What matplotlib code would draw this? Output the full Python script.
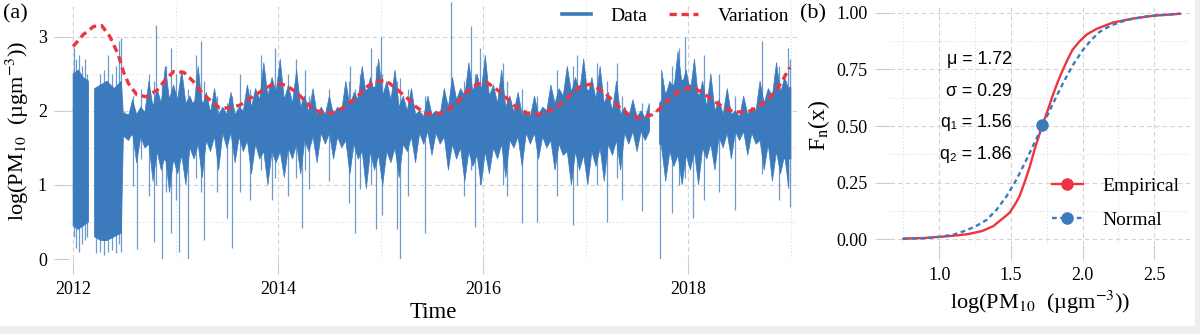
import numpy as np
import matplotlib.pyplot as plt
from matplotlib.lines import Line2D
from matplotlib.patches import Rectangle
from matplotlib.ticker import FixedLocator, FormatStrFormatter

plt.rcParams['font.family'] = 'Liberation Serif'
plt.rcParams['mathtext.fontset'] = 'stix'

nan = np.nan
core_t = [2012.00, 2012.05, 2012.10, 2012.15, 2012.16, 2012.21, 2012.27, 2012.33, 2012.40, 2012.47,
          2012.49, 2012.55, 2012.62, 2012.70, 2012.78, 2012.86, 2012.94, 2013.02, 2013.10, 2013.18,
          2013.26, 2013.34, 2013.42, 2013.50, 2013.58, 2013.66, 2013.74, 2013.82, 2013.90, 2013.98,
          2014.06, 2014.14, 2014.22, 2014.30, 2014.38, 2014.46, 2014.54, 2014.62, 2014.70, 2014.78,
          2014.86, 2014.94, 2015.02, 2015.10, 2015.18, 2015.26, 2015.34, 2015.42, 2015.50, 2015.58,
          2015.66, 2015.74, 2015.82, 2015.90, 2015.98, 2016.06, 2016.14, 2016.22, 2016.30, 2016.38,
          2016.46, 2016.54, 2016.62, 2016.70, 2016.78, 2016.86, 2016.94, 2017.02, 2017.10, 2017.18,
          2017.26, 2017.34, 2017.42, 2017.50, 2017.62, 2017.66, 2017.72, 2017.80, 2017.88, 2017.96,
          2018.04, 2018.12, 2018.20, 2018.28, 2018.36, 2018.44, 2018.52, 2018.60, 2018.68, 2018.76,
          2018.84, 2018.92, 2019.00]
core_lo = [0.45, 0.40, 0.45, 0.50, nan, 0.30, 0.25, 0.25, 0.30, 0.35,
           1.65, 1.65, 1.72, 1.72, 1.55, 1.38, 1.28, 1.35, 1.55, 1.65,
           1.70, 1.72, 1.75, 1.72, 1.72, 1.70, 1.65, 1.60, 1.55, 1.55,
           1.55, 1.60, 1.65, 1.70, 1.72, 1.75, 1.72, 1.70, 1.65, 1.55,
           1.50, 1.45, 1.45, 1.50, 1.55, 1.65, 1.72, 1.75, 1.75, 1.72,
           1.65, 1.55, 1.55, 1.50, 1.50, 1.55, 1.55, 1.60, 1.65, 1.70,
           1.72, 1.72, 1.70, 1.65, 1.55, 1.45, 1.45, 1.45, 1.50, 1.55,
           1.60, 1.70, 1.75, 1.75, 1.75, nan, 1.55, 1.50, 1.45, 1.45,
           1.45, 1.50, 1.55, 1.65, 1.72, 1.75, 1.75, 1.72, 1.70, 1.55,
           1.45, 1.35, 1.35]
core_hi = [2.50, 2.55, 2.45, 2.40, nan, 2.30, 2.35, 2.40, 2.30, 2.40,
           1.95, 1.95, 1.90, 1.90, 2.08, 2.12, 2.18, 2.08, 2.00, 2.12,
           2.12, 1.95, 1.92, 1.92, 1.92, 1.92, 1.95, 2.12, 2.22, 2.28,
           2.18, 2.12, 2.00, 1.95, 1.92, 1.90, 1.92, 2.00, 2.08, 2.18,
           2.28, 2.32, 2.22, 2.12, 2.05, 1.95, 1.92, 1.90, 1.90, 1.92,
           1.95, 2.08, 2.18, 2.28, 2.32, 2.22, 2.10, 2.00, 1.95, 1.92,
           1.90, 1.90, 1.95, 2.05, 2.15, 2.28, 2.32, 2.28, 2.18, 2.10,
           2.00, 1.95, 1.90, 1.88, 1.88, nan, 2.10, 2.28, 2.38, 2.42,
           2.32, 2.18, 2.05, 1.95, 1.92, 1.90, 1.90, 1.92, 1.95, 2.05,
           2.18, 2.28, 2.32]

# upper / lower edge of the dense band every 0.04 yr from mid-2012 on
env_start = 2012.50
env_step = 0.04
upper_v = [1.98, 1.92, 2.15, 1.95, 2.05, 1.98, 2.40, 2.05, 2.30, 2.10, 2.60, 2.15, 2.35,
           2.15, 2.55, 2.10, 2.20, 2.05, 2.60, 2.05, 2.25, 1.98, 2.30, 1.95, 2.05, 1.95,
           2.25, 1.95, 2.05, 2.00, 2.35, 2.05, 2.30, 2.15, 2.65, 2.20, 2.45, 2.25,
           2.70, 2.15, 2.35, 2.10, 2.55, 2.05, 2.20, 1.98, 2.30, 1.95, 2.05, 1.95, 2.20,
           1.95, 2.05, 2.00, 2.40, 2.05, 2.25, 2.15, 2.60, 2.20, 2.45, 2.25, 2.70,
           2.20, 2.40, 2.15, 2.55, 2.05, 2.20, 2.00, 2.30, 1.95, 2.00, 1.92, 2.20, 1.95,
           2.00, 1.95, 2.30, 2.05, 2.45, 2.15, 2.30, 2.20, 2.65, 2.25, 2.50, 2.25,
           2.75, 2.20, 2.35, 2.10, 2.55, 2.05, 2.20, 1.98, 2.25, 1.95, 2.00, 1.92, 2.20,
           1.95, 2.05, 2.00, 2.35, 2.10, 2.30, 2.20, 2.60, 2.25, 2.45, 2.25, 2.70,
           2.20, 2.45, 2.15, 2.60, 2.10, 2.25, 2.00, 2.40, 1.95, 2.05, 1.92, 2.15, 1.92,
           2.00, 1.90, 2.10, nan, nan, 2.55, 2.20, 2.40, 2.30, 2.80, 2.35, 2.55,
           2.25, 2.70, 2.15, 2.40, 2.05, 2.50, 2.00, 2.15, 1.95, 2.30, 1.95, 2.00, 1.92,
           2.20, 1.95, 2.05, 2.00, 2.40, 2.10, 2.30, 2.20, 2.65, 2.25, 2.45, 2.30]
lower_v = [1.65, 1.60, 1.70, 1.30, 1.65, 1.50, 1.55, 1.05, 1.45, 1.20, 1.40, 0.90, 1.35,
           1.15, 1.40, 1.00, 1.50, 1.35, 1.55, 1.10, 1.60, 1.45, 1.65, 1.20, 1.70, 1.50,
           1.70, 1.30, 1.65, 1.45, 1.60, 1.15, 1.55, 1.35, 1.45, 1.00, 1.45, 1.30,
           1.45, 1.10, 1.50, 1.35, 1.55, 1.15, 1.60, 1.45, 1.65, 1.30, 1.70, 1.55, 1.70,
           1.35, 1.65, 1.50, 1.60, 1.15, 1.55, 1.35, 1.45, 0.95, 1.45, 1.20, 1.40,
           1.00, 1.45, 1.30, 1.50, 1.10, 1.55, 1.45, 1.65, 1.30, 1.70, 1.55, 1.72, 1.40,
           1.70, 1.55, 1.65, 1.20, 1.55, 1.35, 1.50, 1.05, 1.45, 1.25, 1.40, 1.00,
           1.45, 1.15, 1.50, 1.35, 1.55, 1.10, 1.60, 1.50, 1.65, 1.25, 1.70, 1.55, 1.70,
           1.35, 1.65, 1.50, 1.60, 1.20, 1.55, 1.40, 1.45, 1.00, 1.45, 1.20, 1.40,
           1.00, 1.45, 1.25, 1.50, 1.05, 1.55, 1.40, 1.60, 1.20, 1.70, 1.55, 1.72, 1.45,
           1.72, 1.60, 1.72, nan, nan, 1.50, 1.05, 1.45, 1.25, 1.40, 1.00, 1.40,
           1.20, 1.45, 1.00, 1.50, 1.35, 1.55, 1.20, 1.65, 1.50, 1.70, 1.35, 1.72, 1.60,
           1.72, 1.40, 1.70, 1.55, 1.60, 1.20, 1.55, 1.05, 1.45, 1.15, 1.40, 0.95]

spike_t = [2012.01, 2012.03, 2012.06, 2012.09, 2012.12, 2012.14, 2012.22, 2012.26, 2012.30, 2012.34,
           2012.38, 2012.42, 2012.45, 2012.47, 2012.58, 2012.62, 2012.66, 2012.74, 2012.79, 2012.81,
           2012.87, 2012.91, 2012.95, 2013.00, 2013.03, 2013.12, 2013.20, 2013.245, 2013.28, 2013.40,
           2013.50, 2013.55, 2013.63, 2013.73, 2013.83, 2013.94, 2013.97, 2014.10, 2014.17, 2014.23,
           2014.26, 2014.30, 2014.50, 2014.69, 2014.70, 2014.75, 2014.80, 2014.91, 2014.95, 2015.005,
           2015.01, 2015.16, 2015.19, 2015.27, 2015.43, 2015.685, 2015.81, 2015.88, 2015.92, 2015.97,
           2016.19, 2016.23, 2016.38, 2016.52, 2016.72, 2016.88, 2016.91, 2017.11, 2017.21, 2017.30,
           2017.35, 2017.55, 2017.72, 2017.84, 2017.91, 2017.97, 2018.05, 2018.15, 2018.30, 2018.46,
           2018.72, 2018.88, 2018.97, 2018.99]
spike_lo = [0.30, 0.15, 0.10, 0.20, 0.25, 0.30, 0.08, 0.10, 0.06, 0.10,
            0.12, 0.08, 0.20, 0.10, 0.98, 0.14, 1.35, 0.85, 0.23, 1.00,
            0.00, 0.90, 0.35, 0.80, 0.10, 0.00, 1.10, 0.90, 0.25, 0.90,
            0.55, 0.15, 0.90, 0.80, 1.20, 0.80, 1.10, 0.85, 1.10, 0.42,
            1.20, 0.95, 1.05, 0.75, 1.20, 0.35, 0.95, 1.00, 0.40, 1.10,
            0.60, 0.40, 0.00, 0.85, 0.35, 1.50, 0.85, 1.20, 0.43, 1.00,
            1.00, 0.85, 0.49, 0.50, 0.85, 0.46, 1.00, 1.00, 0.50, 1.10,
            0.80, 0.65, 0.00, 0.62, 1.00, 1.10, 0.55, 0.80, 0.90, 0.66,
            1.15, 0.80, 1.00, 0.70]
spike_hi = [2.85, 2.70, 2.75, 2.60, 2.70, 2.50, 2.30, 2.50, 2.55, 2.75,
            2.50, 2.60, 2.95, 2.98, 2.20, 1.90, 2.30, 2.50, 2.40, 3.16,
            2.40, 2.60, 2.85, 2.50, 2.30, 2.30, 2.75, 2.95, 2.40, 2.20,
            2.10, 2.20, 2.50, 2.30, 2.75, 2.40, 2.85, 2.50, 2.70, 2.20,
            2.55, 2.20, 2.30, 2.40, 2.60, 2.30, 2.50, 2.85, 2.60, 3.00,
            2.50, 2.40, 2.45, 2.30, 2.20, 3.47, 2.40, 3.14, 2.50, 2.85,
            2.65, 2.40, 2.30, 2.20, 2.55, 2.60, 2.75, 2.65, 2.40, 2.65,
            2.20, 2.10, 2.00, 2.60, 2.85, 3.00, 2.50, 2.75, 2.50, 2.20,
            2.95, 2.60, 2.85, 2.70]

var_t = [2012.00, 2012.10, 2012.20, 2012.28, 2012.36, 2012.44, 2012.49, 2012.54, 2012.62, 2012.71,
         2012.82, 2012.90, 2012.98, 2013.08, 2013.17, 2013.26, 2013.34, 2013.43, 2013.53, 2013.63,
         2013.74, 2013.86, 2013.96, 2014.07, 2014.17, 2014.26, 2014.34, 2014.46, 2014.57, 2014.67,
         2014.77, 2014.85, 2014.95, 2015.06, 2015.16, 2015.26, 2015.34, 2015.43, 2015.54, 2015.66,
         2015.76, 2015.84, 2015.94, 2016.04, 2016.15, 2016.23, 2016.32, 2016.43, 2016.54, 2016.65,
         2016.75, 2016.84, 2016.93, 2017.04, 2017.15, 2017.24, 2017.32, 2017.42, 2017.53, 2017.65,
         2017.74, 2017.82, 2017.92, 2018.03, 2018.14, 2018.23, 2018.33, 2018.44, 2018.57, 2018.68,
         2018.78, 2018.86, 2018.93, 2018.99]
var_v = [2.87, 3.03, 3.14, 3.15, 3.00, 2.76, 2.53, 2.37, 2.22, 2.19,
         2.28, 2.42, 2.53, 2.52, 2.40, 2.24, 2.14, 2.04, 2.04, 2.08,
         2.18, 2.29, 2.37, 2.35, 2.26, 2.14, 2.02, 1.96, 1.99, 2.08,
         2.19, 2.31, 2.41, 2.40, 2.29, 2.17, 2.06, 1.97, 1.95, 2.02,
         2.13, 2.26, 2.36, 2.38, 2.27, 2.17, 2.05, 1.97, 1.95, 2.00,
         2.09, 2.20, 2.32, 2.36, 2.28, 2.17, 2.06, 1.95, 1.90, 1.95,
         2.05, 2.17, 2.28, 2.32, 2.25, 2.15, 2.06, 1.99, 1.98, 2.05,
         2.16, 2.28, 2.44, 2.59]

# ---- panel (b): empirical vs normal CDF
emp_x = [0.75, 0.90, 1.00, 1.10, 1.20, 1.30, 1.376, 1.45, 1.49, 1.53, 1.56, 1.60, 1.632, 1.667,
         1.70, 1.725, 1.76, 1.79, 1.83, 1.86, 1.90, 1.93, 1.98, 2.03, 2.10, 2.21, 2.35, 2.50, 2.68]
emp_f = [0.002, 0.005, 0.010, 0.015, 0.022, 0.036, 0.057, 0.095, 0.116, 0.155, 0.189, 0.260, 0.321,
         0.400, 0.465, 0.513, 0.575, 0.632, 0.700, 0.745, 0.800, 0.837, 0.875, 0.905, 0.930, 0.957,
         0.975, 0.988, 0.996]
norm_x = [0.75, 0.90, 1.00, 1.10, 1.167, 1.25, 1.33, 1.40, 1.47, 1.54, 1.60, 1.66, 1.72, 1.794,
          1.864, 1.93, 2.00, 2.06, 2.12, 2.20, 2.31, 2.45, 2.68]
norm_f = [0.002, 0.004, 0.010, 0.020, 0.034, 0.055, 0.085, 0.130, 0.190, 0.265, 0.340, 0.420, 0.500,
          0.600, 0.690, 0.767, 0.834, 0.880, 0.917, 0.945, 0.969, 0.985, 0.997]
median_x = [1.72]
median_f = [0.505]
stat_names = ['μ', 'σ', 'q₁', 'q₂']
stat_values = [1.72, 0.29, 1.56, 1.86]

blue = '#3b7bbd'
red = '#ef3340'
grid_major = '#d2d2d2'
grid_minor = '#dedede'
pm_label = r'log(PM$_{10}$  (µgm$^{-3}$))'


def style(ax):
    for s in ax.spines.values():
        s.set_visible(False)
    ax.set_axisbelow(True)
    ax.grid(which='major', color=grid_major, ls=(0, (4, 3)), lw=0.8)
    ax.grid(which='minor', color=grid_minor, ls=(0, (1, 2)), lw=0.8)
    ax.tick_params(which='major', length=11, width=0.8, color='#cccccc', pad=5, labelsize=13)
    ax.tick_params(which='minor', length=0)


fig = plt.figure(figsize=(12, 3.34), dpi=100)
fig.patches.append(Rectangle((0, 0), 1, 8 / 334, transform=fig.transFigure, color='#eeeeee', zorder=0))
fig.patches.append(Rectangle((1195 / 1200, 0), 5 / 1200, 1, transform=fig.transFigure, color='#eeeeee', zorder=0))

ax1 = fig.add_axes([69 / 1200, 75 / 334, 728 / 1200, 257 / 334])
style(ax1)
env_t = np.round(env_start + env_step * np.arange(len(upper_v)), 2)
ax1.fill_between(core_t, core_lo, core_hi, color=blue, lw=0.6, edgecolor=blue)
ax1.fill_between(env_t, lower_v, upper_v, color=blue, lw=0.5, edgecolor=blue)
ax1.vlines(spike_t, spike_lo, spike_hi, color=blue, lw=0.9, alpha=0.75)
ax1.plot(var_t, var_v, color=red, lw=2.4, ls=(0, (2.2, 1.4)))
ax1.set_xlim(2011.96, 2019.06)
ax1.set_ylim(0, 3.47)
ax1.set_xticks([2012, 2014, 2016, 2018])
ax1.set_xticklabels(['2012', '2014', '2016', '2018'])
ax1.xaxis.set_minor_locator(FixedLocator([2013, 2015, 2017, 2019]))
ax1.set_yticks([0, 1, 2, 3])
ax1.yaxis.set_minor_locator(FixedLocator([0.5, 1.5, 2.5]))
ax1.set_xlabel('Time', fontsize=16.5, labelpad=3)
ax1.set_ylabel(pm_label, fontsize=16, labelpad=5)
handles = [Line2D([], [], color=blue, lw=2.6), Line2D([], [], color=red, lw=2.4, ls=(0, (2.2, 1.4)))]
ax1.legend(handles, ['Data', 'Variation'], loc='upper right', bbox_to_anchor=(1.0, 1.01), ncol=2,
           frameon=False, fontsize=14, handlelength=1.5, handletextpad=1.0, columnspacing=1.1,
           borderaxespad=0)
fig.text(3 / 1200, 1 - 14 / 334, '(a)', fontsize=16, va='center', ha='left')

ax2 = fig.add_axes([890 / 1200, 89 / 334, 300 / 1200, 240 / 334])
style(ax2)
ax2.plot(emp_x, emp_f, color=red, lw=1.7)
ax2.plot(norm_x, norm_f, color=blue, lw=1.7, ls=(0, (2, 1.5)))
ax2.plot(median_x, median_f, 'o', color=blue, ms=8, zorder=5)
ax2.set_xlim(0.656, 2.75)
ax2.set_ylim(-0.026, 1.035)
ax2.set_xticks([1.0, 1.5, 2.0, 2.5])
ax2.xaxis.set_major_formatter(FormatStrFormatter('%.1f'))
ax2.xaxis.set_minor_locator(FixedLocator([0.75, 1.25, 1.75, 2.25, 2.75]))
ax2.set_yticks([0, 0.25, 0.5, 0.75, 1.0])
ax2.yaxis.set_major_formatter(FormatStrFormatter('%.2f'))
ax2.yaxis.set_minor_locator(FixedLocator([0.125, 0.375, 0.625, 0.875]))
ax2.set_xlabel(pm_label, fontsize=16, labelpad=3)
ax2.set_ylabel(r'F$_{\mathrm{n}}$(x)', fontsize=17, labelpad=3)
for i, (name, val) in enumerate(zip(stat_names, stat_values)):
    ax2.text(1.505, 0.794 - i * 0.14, f'{name} = {val:.2f}', ha='right', va='center',
             fontsize=12.8, family=['Liberation Sans', 'DejaVu Sans'])
handles = [Line2D([], [], color=red, lw=1.7, marker='o', ms=8),
           Line2D([], [], color=blue, lw=1.7, ls=(0, (2, 1.5)), marker='o', ms=8)]
ax2.legend(handles, ['Empirical', 'Normal'], loc='center left', bbox_to_anchor=(0.48, 0.175),
           frameon=False, fontsize=14, handlelength=1.6, handletextpad=1.0, labelspacing=0.85,
           numpoints=1)
fig.text(800 / 1200, 1 - 14 / 334, '(b)', fontsize=16, va='center', ha='left')

fig.savefig('out.png', dpi=100)
